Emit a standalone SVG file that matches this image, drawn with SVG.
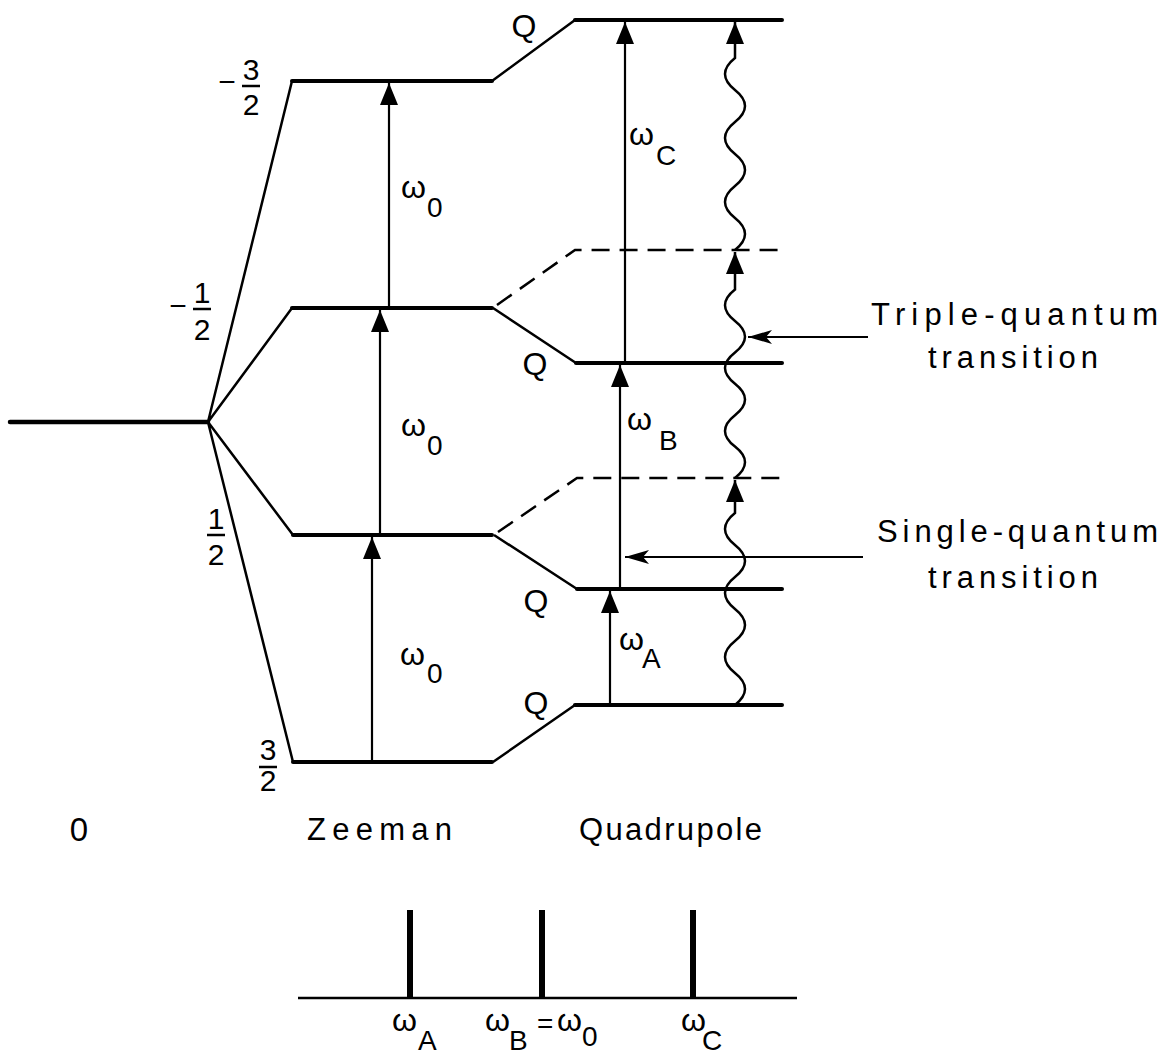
<svg xmlns="http://www.w3.org/2000/svg" width="1168" height="1057" viewBox="0 0 1168 1057">
<defs>
<style>
text{font-family:"Liberation Sans","DejaVu Sans",Arial,sans-serif;fill:#000}
.lvl{stroke:#000;stroke-width:4;fill:none;stroke-linecap:round}
.sl{stroke:#000;stroke-width:2.5;fill:none}
.dash{stroke:#000;stroke-width:2.5;fill:none;stroke-dasharray:18 10}
.arr{stroke:#000;stroke-width:2.2;fill:none;marker-end:url(#ah)}
.side{stroke:#000;stroke-width:1.8;fill:none;marker-end:url(#sh)}
.wave{stroke:#000;stroke-width:2.5;fill:none;marker-end:url(#ah)}
.bar{stroke:#000;stroke-width:2.5}
.num{font-size:30px;text-anchor:middle}
.q{font-size:32px;text-anchor:middle}
.w{font-size:32px}
.sub{font-size:28px}
.lab{font-size:31px}
.pk{stroke:#000;stroke-width:6}
</style>
<marker id="ah" viewBox="0 0 22 18" refX="22" refY="9" markerWidth="22" markerHeight="18" markerUnits="userSpaceOnUse" orient="auto">
<path d="M0,0 L22,9 L0,18 z" fill="#000"/>
</marker>
<marker id="sh" viewBox="0 0 24 14" refX="24" refY="7" markerWidth="24" markerHeight="14" markerUnits="userSpaceOnUse" orient="auto">
<path d="M0,0 L24,7 L0,14 L6,7 z" fill="#000"/>
</marker>
</defs>
<rect width="1168" height="1057" fill="#fff"/>

<g id="zero-field">
<line class="lvl" x1="10" y1="422" x2="208" y2="422" style="stroke-width:4.5"/>
<text x="79" y="841" style="font-size:33px" text-anchor="middle">0</text>
</g>

<g id="zeeman">
<path class="sl" d="M208,422 L292,81 M208,422 L292,308 M208,422 L293,535 M208,422 L293,762"/>
<line class="lvl" x1="292" y1="81" x2="492" y2="81"/>
<line class="lvl" x1="292" y1="308" x2="492" y2="308"/>
<line class="lvl" x1="293" y1="535" x2="492" y2="535"/>
<line class="lvl" x1="293" y1="762" x2="492" y2="762"/>
<text x="307" y="840" class="lab" textLength="145" lengthAdjust="spacing">Zeeman</text>
</g>

<g id="label-m32">
<text x="227" y="92" class="num">−</text>
<text x="251" y="80" class="num">3</text>
<line class="bar" x1="242" y1="86" x2="260" y2="86"/>
<text x="251" y="115" class="num">2</text>
</g>
<g id="label-m12">
<text x="178" y="316" class="num">−</text>
<text x="202" y="303" class="num">1</text>
<line class="bar" x1="193" y1="309" x2="211" y2="309"/>
<text x="202" y="340" class="num">2</text>
</g>
<g id="label-p12">
<text x="216" y="529" class="num">1</text>
<line class="bar" x1="207" y1="535" x2="225" y2="535"/>
<text x="216" y="565" class="num">2</text>
</g>
<g id="label-p32">
<text x="268" y="760" class="num">3</text>
<line class="bar" x1="259" y1="767" x2="277" y2="767"/>
<text x="268" y="791" class="num">2</text>
</g>

<g id="quadrupole">
<path class="sl" d="M492,81 L575,20 M493,308 L576,363 M494,535 L577,589 M493,762 L575,705"/>
<path class="dash" d="M497,305 L575,250 L782,250"/>
<path class="dash" d="M498,532 L577,478 L782,478"/>
<line class="lvl" x1="575" y1="20" x2="782" y2="20"/>
<line class="lvl" x1="576" y1="363" x2="782" y2="363"/>
<line class="lvl" x1="577" y1="589" x2="782" y2="589"/>
<line class="lvl" x1="575" y1="705" x2="782" y2="705"/>
<text x="524" y="37" class="q">Q</text>
<text x="535" y="375" class="q">Q</text>
<text x="536" y="612" class="q">Q</text>
<text x="536" y="714" class="q">Q</text>
<text x="579" y="840" class="lab" textLength="183" lengthAdjust="spacing">Quadrupole</text>
</g>

<g id="connectors">
<line class="arr" x1="372" y1="762" x2="372" y2="537"/>
<line class="arr" x1="380" y1="535" x2="380" y2="310"/>
<line class="arr" x1="389" y1="308" x2="389" y2="83"/>
<line class="arr" x1="610" y1="705" x2="610" y2="591"/>
<line class="arr" x1="620" y1="589" x2="620" y2="365"/>
<line class="arr" x1="625" y1="363" x2="625" y2="22"/>
<path class="wave" d="M735,705 q20,-16 0,-32 t0,-32 t0,-32 t0,-32 t0,-32 t0,-32 L735,480"/>
<path class="wave" d="M735,478 q20,-15.7 0,-31.4 t0,-31.4 t0,-31.4 t0,-31.4 t0,-31.4 t0,-31.4 L735,252"/>
<path class="wave" d="M735,250 q20,-16 0,-32 t0,-32 t0,-32 t0,-32 t0,-32 t0,-32 L735,22"/>
<line class="side" x1="868" y1="337" x2="748" y2="337"/>
<line class="side" x1="863" y1="557" x2="625" y2="557"/>
</g>

<g id="freq-labels">
<text x="401" y="198" class="w">ω</text><text x="427" y="217" class="sub">0</text>
<text x="401" y="436" class="w">ω</text><text x="427" y="455" class="sub">0</text>
<text x="400" y="665" class="w">ω</text><text x="427" y="683" class="sub">0</text>
<text x="629" y="145" class="w">ω</text><text x="656" y="165" class="sub">C</text>
<text x="627" y="430" class="w">ω</text><text x="659" y="450" class="sub">B</text>
<text x="619" y="650" class="w">ω</text><text x="642" y="668" class="sub">A</text>
</g>

<g id="triple-label">
<text x="871" y="325" class="lab" textLength="287" lengthAdjust="spacing">Triple-quantum</text>
<text x="928" y="368" class="lab" textLength="170" lengthAdjust="spacing">transition</text>
</g>
<g id="single-label">
<text x="877" y="542" class="lab" textLength="281" lengthAdjust="spacing">Single-quantum</text>
<text x="928" y="588" class="lab" textLength="170" lengthAdjust="spacing">transition</text>
</g>

<g id="spectrum">
<line x1="298" y1="998" x2="797" y2="998" stroke="#000" stroke-width="2.5"/>
<line class="pk" x1="410" y1="910" x2="410" y2="998"/>
<line class="pk" x1="542" y1="910" x2="542" y2="998"/>
<line class="pk" x1="693" y1="910" x2="693" y2="998"/>
<text x="392" y="1031" class="w">ω</text><text x="418" y="1050" class="sub">A</text>
<text x="485" y="1031" class="w">ω</text><text x="509" y="1050" class="sub">B</text>
<text x="537" y="1033" class="sub">=</text>
<text x="557" y="1031" class="w">ω</text><text x="582" y="1046" class="sub">0</text>
<text x="681" y="1031" class="w">ω</text><text x="702" y="1050" class="sub">C</text>
</g>
</svg>
